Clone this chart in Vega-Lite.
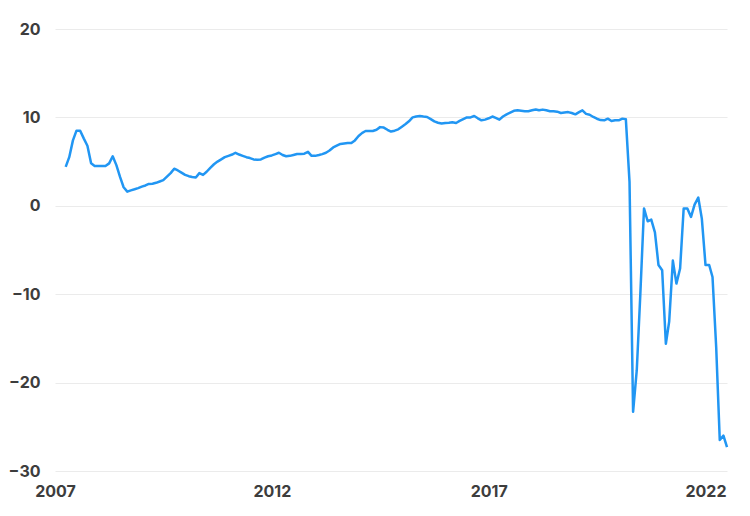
{
  "$schema": "https://vega.github.io/schema/vega-lite/v6.json",
  "width": 672,
  "height": 442,
  "autosize": {"type": "none"},
  "padding": {"left": 55, "top": 29, "right": 23, "bottom": 45},
  "background": "#ffffff",
  "config": {
    "view": {"stroke": null},
    "font": "Inter",
    "axis": {
      "domain": false,
      "ticks": false,
      "labelFont": "Inter",
      "labelFontWeight": "bold",
      "labelFontSize": 16,
      "labelColor": "#3d3d3d",
      "title": null,
      "gridColor": "#ebebeb",
      "gridWidth": 1
    }
  },
  "data": {
    "values": [
      {"date": "2007-04-01", "v": 4.4},
      {"date": "2007-05-01", "v": 5.5},
      {"date": "2007-06-01", "v": 7.4},
      {"date": "2007-07-01", "v": 8.5},
      {"date": "2007-08-01", "v": 8.5},
      {"date": "2007-09-01", "v": 7.6},
      {"date": "2007-10-01", "v": 6.8},
      {"date": "2007-11-01", "v": 4.8},
      {"date": "2007-12-01", "v": 4.5},
      {"date": "2008-01-01", "v": 4.5},
      {"date": "2008-02-01", "v": 4.5},
      {"date": "2008-03-01", "v": 4.5},
      {"date": "2008-04-01", "v": 4.8},
      {"date": "2008-05-01", "v": 5.6},
      {"date": "2008-06-01", "v": 4.6},
      {"date": "2008-07-01", "v": 3.3},
      {"date": "2008-08-01", "v": 2.1},
      {"date": "2008-09-01", "v": 1.6},
      {"date": "2008-10-01", "v": 1.75},
      {"date": "2008-11-01", "v": 1.87},
      {"date": "2008-12-01", "v": 2.0},
      {"date": "2009-01-01", "v": 2.17},
      {"date": "2009-02-01", "v": 2.3},
      {"date": "2009-03-01", "v": 2.47},
      {"date": "2009-04-01", "v": 2.5},
      {"date": "2009-05-01", "v": 2.6},
      {"date": "2009-06-01", "v": 2.75},
      {"date": "2009-07-01", "v": 2.9},
      {"date": "2009-08-01", "v": 3.3},
      {"date": "2009-09-01", "v": 3.7},
      {"date": "2009-10-01", "v": 4.2},
      {"date": "2009-11-01", "v": 4.0},
      {"date": "2009-12-01", "v": 3.75},
      {"date": "2010-01-01", "v": 3.5},
      {"date": "2010-02-01", "v": 3.35},
      {"date": "2010-03-01", "v": 3.25},
      {"date": "2010-04-01", "v": 3.2},
      {"date": "2010-05-01", "v": 3.7},
      {"date": "2010-06-01", "v": 3.5},
      {"date": "2010-07-01", "v": 3.85},
      {"date": "2010-08-01", "v": 4.3},
      {"date": "2010-09-01", "v": 4.7},
      {"date": "2010-10-01", "v": 5.0},
      {"date": "2010-11-01", "v": 5.25},
      {"date": "2010-12-01", "v": 5.5},
      {"date": "2011-01-01", "v": 5.65},
      {"date": "2011-02-01", "v": 5.8},
      {"date": "2011-03-01", "v": 6.0},
      {"date": "2011-04-01", "v": 5.8},
      {"date": "2011-05-01", "v": 5.65},
      {"date": "2011-06-01", "v": 5.5},
      {"date": "2011-07-01", "v": 5.4},
      {"date": "2011-08-01", "v": 5.25},
      {"date": "2011-09-01", "v": 5.2},
      {"date": "2011-10-01", "v": 5.25},
      {"date": "2011-11-01", "v": 5.45},
      {"date": "2011-12-01", "v": 5.6},
      {"date": "2012-01-01", "v": 5.7},
      {"date": "2012-02-01", "v": 5.85},
      {"date": "2012-03-01", "v": 6.0},
      {"date": "2012-04-01", "v": 5.75},
      {"date": "2012-05-01", "v": 5.6},
      {"date": "2012-06-01", "v": 5.65},
      {"date": "2012-07-01", "v": 5.75},
      {"date": "2012-08-01", "v": 5.86},
      {"date": "2012-09-01", "v": 5.86},
      {"date": "2012-10-01", "v": 5.9},
      {"date": "2012-11-01", "v": 6.1},
      {"date": "2012-12-01", "v": 5.65},
      {"date": "2013-01-01", "v": 5.65},
      {"date": "2013-02-01", "v": 5.75},
      {"date": "2013-03-01", "v": 5.85},
      {"date": "2013-04-01", "v": 6.0},
      {"date": "2013-05-01", "v": 6.25},
      {"date": "2013-06-01", "v": 6.6},
      {"date": "2013-07-01", "v": 6.8},
      {"date": "2013-08-01", "v": 7.0},
      {"date": "2013-09-01", "v": 7.05},
      {"date": "2013-10-01", "v": 7.1},
      {"date": "2013-11-01", "v": 7.1},
      {"date": "2013-12-01", "v": 7.4},
      {"date": "2014-01-01", "v": 7.9},
      {"date": "2014-02-01", "v": 8.25},
      {"date": "2014-03-01", "v": 8.46},
      {"date": "2014-04-01", "v": 8.46},
      {"date": "2014-05-01", "v": 8.46},
      {"date": "2014-06-01", "v": 8.6},
      {"date": "2014-07-01", "v": 8.9},
      {"date": "2014-08-01", "v": 8.85},
      {"date": "2014-09-01", "v": 8.6},
      {"date": "2014-10-01", "v": 8.4},
      {"date": "2014-11-01", "v": 8.5},
      {"date": "2014-12-01", "v": 8.65},
      {"date": "2015-01-01", "v": 8.95},
      {"date": "2015-02-01", "v": 9.25},
      {"date": "2015-03-01", "v": 9.56},
      {"date": "2015-04-01", "v": 10.0},
      {"date": "2015-05-01", "v": 10.1},
      {"date": "2015-06-01", "v": 10.16},
      {"date": "2015-07-01", "v": 10.1},
      {"date": "2015-08-01", "v": 10.05},
      {"date": "2015-09-01", "v": 9.8},
      {"date": "2015-10-01", "v": 9.55},
      {"date": "2015-11-01", "v": 9.4},
      {"date": "2015-12-01", "v": 9.3},
      {"date": "2016-01-01", "v": 9.37},
      {"date": "2016-02-01", "v": 9.4},
      {"date": "2016-03-01", "v": 9.45},
      {"date": "2016-04-01", "v": 9.37},
      {"date": "2016-05-01", "v": 9.6},
      {"date": "2016-06-01", "v": 9.8},
      {"date": "2016-07-01", "v": 10.0},
      {"date": "2016-08-01", "v": 10.0},
      {"date": "2016-09-01", "v": 10.16},
      {"date": "2016-10-01", "v": 9.9},
      {"date": "2016-11-01", "v": 9.67},
      {"date": "2016-12-01", "v": 9.75},
      {"date": "2017-01-01", "v": 9.9},
      {"date": "2017-02-01", "v": 10.1},
      {"date": "2017-03-01", "v": 9.95},
      {"date": "2017-04-01", "v": 9.75},
      {"date": "2017-05-01", "v": 10.1},
      {"date": "2017-06-01", "v": 10.35},
      {"date": "2017-07-01", "v": 10.55},
      {"date": "2017-08-01", "v": 10.75},
      {"date": "2017-09-01", "v": 10.8},
      {"date": "2017-10-01", "v": 10.75},
      {"date": "2017-11-01", "v": 10.7},
      {"date": "2017-12-01", "v": 10.7},
      {"date": "2018-01-01", "v": 10.8},
      {"date": "2018-02-01", "v": 10.9},
      {"date": "2018-03-01", "v": 10.8},
      {"date": "2018-04-01", "v": 10.88},
      {"date": "2018-05-01", "v": 10.8},
      {"date": "2018-06-01", "v": 10.7},
      {"date": "2018-07-01", "v": 10.7},
      {"date": "2018-08-01", "v": 10.65},
      {"date": "2018-09-01", "v": 10.5},
      {"date": "2018-10-01", "v": 10.55},
      {"date": "2018-11-01", "v": 10.6},
      {"date": "2018-12-01", "v": 10.5},
      {"date": "2019-01-01", "v": 10.35},
      {"date": "2019-02-01", "v": 10.6},
      {"date": "2019-03-01", "v": 10.8},
      {"date": "2019-04-01", "v": 10.4},
      {"date": "2019-05-01", "v": 10.3},
      {"date": "2019-06-01", "v": 10.05},
      {"date": "2019-07-01", "v": 9.85},
      {"date": "2019-08-01", "v": 9.7},
      {"date": "2019-09-01", "v": 9.67},
      {"date": "2019-10-01", "v": 9.86},
      {"date": "2019-11-01", "v": 9.6},
      {"date": "2019-12-01", "v": 9.67},
      {"date": "2020-01-01", "v": 9.67},
      {"date": "2020-02-01", "v": 9.86},
      {"date": "2020-03-01", "v": 9.8},
      {"date": "2020-04-01", "v": 2.7},
      {"date": "2020-05-01", "v": -23.3},
      {"date": "2020-06-01", "v": -18.6},
      {"date": "2020-07-01", "v": -10.0},
      {"date": "2020-08-01", "v": -0.3},
      {"date": "2020-09-01", "v": -1.75},
      {"date": "2020-10-01", "v": -1.56},
      {"date": "2020-11-01", "v": -3.0},
      {"date": "2020-12-01", "v": -6.7},
      {"date": "2021-01-01", "v": -7.3},
      {"date": "2021-02-01", "v": -15.6},
      {"date": "2021-03-01", "v": -13.1},
      {"date": "2021-04-01", "v": -6.2},
      {"date": "2021-05-01", "v": -8.8},
      {"date": "2021-06-01", "v": -7.1},
      {"date": "2021-07-01", "v": -0.3},
      {"date": "2021-08-01", "v": -0.3},
      {"date": "2021-09-01", "v": -1.26},
      {"date": "2021-10-01", "v": 0.14},
      {"date": "2021-11-01", "v": 0.93},
      {"date": "2021-12-01", "v": -1.45},
      {"date": "2022-01-01", "v": -6.7},
      {"date": "2022-02-01", "v": -6.7},
      {"date": "2022-03-01", "v": -8.05},
      {"date": "2022-04-01", "v": -16.0},
      {"date": "2022-05-01", "v": -26.5},
      {"date": "2022-06-01", "v": -26.0},
      {"date": "2022-07-01", "v": -27.3}
    ]
  },
  "mark": {"type": "line", "color": "#2196f3", "strokeWidth": 2.5, "strokeJoin": "round"},
  "encoding": {
    "x": {
      "field": "date",
      "type": "temporal",
      "scale": {
        "type": "utc",
        "domain": [
          {"year": 2007, "month": 1, "date": 1, "utc": true},
          {"year": 2022, "month": 7, "date": 1, "utc": true}
        ]
      },
      "axis": {
        "grid": false,
        "values": [
          {"year": 2007, "month": 1, "date": 1, "utc": true},
          {"year": 2012, "month": 1, "date": 1, "utc": true},
          {"year": 2017, "month": 1, "date": 1, "utc": true},
          {"year": 2022, "month": 1, "date": 1, "utc": true}
        ],
        "format": "%Y",
        "formatType": "utc",
        "labelFlush": false,
        "labelPadding": 12,
        "labelAlign": "center"
      }
    },
    "y": {
      "field": "v",
      "type": "quantitative",
      "scale": {"domain": [-30, 20], "nice": false, "zero": false},
      "axis": {
        "values": [-30, -20, -10, 0, 10, 20],
        "grid": true,
        "labelPadding": 15,
        "labelBaseline": "middle"
      }
    }
  }
}
